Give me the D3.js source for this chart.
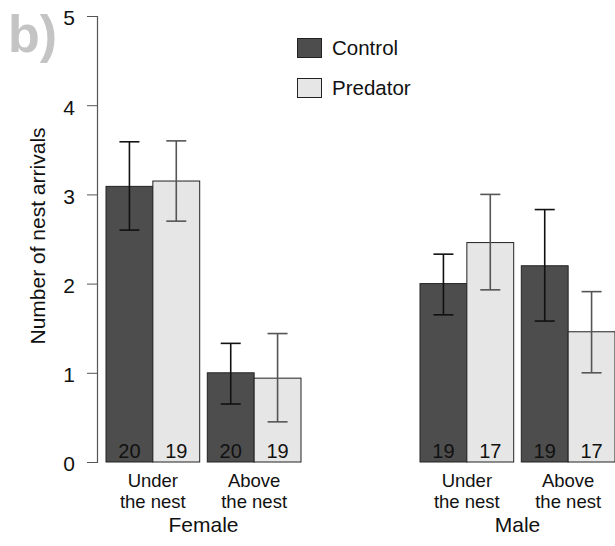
<!DOCTYPE html>
<html><head><meta charset="utf-8">
<script src="https://cdn.jsdelivr.net/npm/d3@7"></script>
<style>body{margin:0;background:#fff}svg{display:block;font-family:Arial,"Liberation Sans",sans-serif}</style>
</head><body><svg id="c" width="615" height="546"></svg>
<script>
const sexes = ["Female", "Male"];
const locations = ["Under the nest", "Above the nest"];
const treatments = ["Control", "Predator"];
// order: Female-Under, Female-Above, Male-Under, Male-Above
const controlMean = [3.09, 1.00, 2.00, 2.20];
const controlLow  = [2.60, 0.65, 1.65, 1.58];
const controlHigh = [3.59, 1.33, 2.33, 2.83];
const controlN    = [20, 20, 19, 19];
const predatorMean = [3.15, 0.94, 2.46, 1.46];
const predatorLow  = [2.70, 0.45, 1.93, 1.00];
const predatorHigh = [3.60, 1.44, 3.00, 1.91];
const predatorN    = [19, 19, 17, 17];
const yTicks = [0, 1, 2, 3, 4, 5];

const colors = {Control: "#4d4d4d", Predator: "#e6e6e6"};
const svg = d3.select("#c");

const y = d3.scaleLinear().domain([0, 5]).range([462, 16]);
const xSex = d3.scaleBand().domain(sexes).range([106, 615]).paddingInner(0.379).paddingOuter(0);
const xLoc = d3.scaleBand().domain(locations).range([0, xSex.bandwidth()]).paddingInner(0.075).paddingOuter(0);
const xTr = d3.scaleBand().domain(treatments).range([0, xLoc.bandwidth()]).padding(0);

const data = [];
sexes.forEach((s, si) => locations.forEach((l, li) => {
  const i = si * 2 + li;
  data.push({sex: s, loc: l, tr: "Control", mean: controlMean[i], lo: controlLow[i], hi: controlHigh[i], n: controlN[i]});
  data.push({sex: s, loc: l, tr: "Predator", mean: predatorMean[i], lo: predatorLow[i], hi: predatorHigh[i], n: predatorN[i]});
}));
const bx = d => xSex(d.sex) + xLoc(d.loc) + xTr(d.tr);

// y axis
const yAxis = d3.axisLeft(y).tickValues(yTicks).tickSize(10).tickPadding(12).tickFormat(d3.format("d"));
const ga = svg.append("g").attr("transform", "translate(97,0)").call(yAxis);
ga.attr("font-family", null).attr("font-size", null);
ga.select(".domain").attr("stroke", "#555").attr("stroke-width", 1.2).attr("d", "M-10,16.5H0.5V462.5H-10");
ga.selectAll(".tick line").attr("stroke", "#555");
ga.selectAll(".tick text").attr("font-size", 21).attr("fill", "#111").attr("dy", "0.42em");

svg.append("text").attr("transform", "translate(45,236) rotate(-90)").attr("text-anchor", "middle")
  .attr("font-size", 21).attr("fill", "#111").text("Number of nest arrivals");

// bars
svg.append("g").selectAll("rect").data(data).join("rect")
  .attr("x", d => bx(d)).attr("width", xTr.bandwidth())
  .attr("y", d => y(d.mean)).attr("height", d => y(0) - y(d.mean))
  .attr("fill", d => colors[d.tr]).attr("stroke", "#222").attr("stroke-width", 1);

// error bars
const eb = svg.append("g").attr("stroke-width", 1.6);
data.forEach(d => {
  const cx = bx(d) + xTr.bandwidth() / 2;
  const col = d.tr === "Control" ? "#111" : "#555";
  eb.append("line").attr("x1", cx).attr("x2", cx).attr("y1", y(d.lo)).attr("y2", y(d.hi)).attr("stroke", col);
  [d.lo, d.hi].forEach(v => eb.append("line").attr("x1", cx - 10).attr("x2", cx + 10).attr("y1", y(v)).attr("y2", y(v)).attr("stroke", col));
});

// n labels
svg.append("g").selectAll("text").data(data).join("text")
  .attr("x", d => bx(d) + xTr.bandwidth() / 2).attr("y", 458)
  .attr("text-anchor", "middle").attr("font-size", 20).attr("fill", "#111").text(d => d.n);

// category labels
sexes.forEach(s => {
  locations.forEach(l => {
    const cx = xSex(s) + xLoc(l) + xLoc.bandwidth() / 2;
    const words = l.split(" ");
    svg.append("text").attr("x", cx).attr("y", 487).attr("text-anchor", "middle").attr("font-size", 18.5)
      .attr("fill", "#111").text(words[0]);
    svg.append("text").attr("x", cx).attr("y", 508).attr("text-anchor", "middle").attr("font-size", 18.5)
      .attr("fill", "#111").text(words.slice(1).join(" "));
  });
  svg.append("text").attr("x", xSex(s) + xSex.bandwidth() / 2).attr("y", 532).attr("text-anchor", "middle")
    .attr("font-size", 21).attr("fill", "#111").text(s);
});

// legend
treatments.forEach((t, i) => {
  const ly = 38 + i * 40;
  svg.append("rect").attr("x", 297.5).attr("y", ly + 0.5).attr("width", 24).attr("height", 19)
    .attr("fill", colors[t]).attr("stroke", "#222");
  svg.append("text").attr("x", 332).attr("y", ly + 17).attr("font-size", 20.5).attr("fill", "#111").text(t);
});

// panel label
svg.append("text").attr("x", 8).attr("y", 52).attr("font-size", 52).attr("font-weight", "bold")
  .attr("fill", "#c4c4c4").text("b)");
</script></body></html>
